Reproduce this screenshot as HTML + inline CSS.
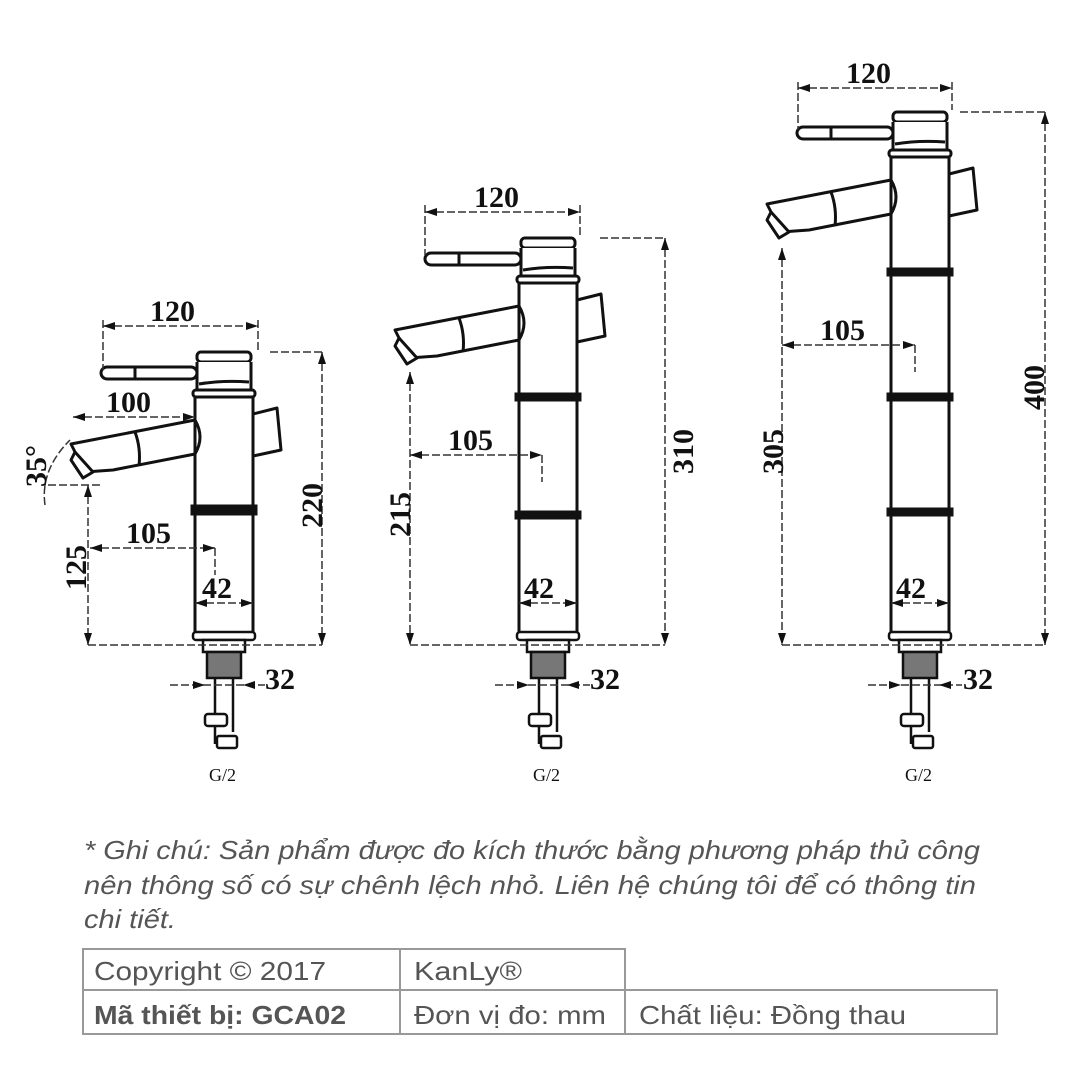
<!DOCTYPE html>
<html><head><meta charset="utf-8"><style>
html,body{margin:0;padding:0;background:#fff;}
svg{display:block;}
.d{font-family:"Liberation Serif",serif;font-weight:bold;font-size:30px;fill:#111;}
.n{font-family:"Liberation Sans",sans-serif;font-size:26px;fill:#555;}
</style></head><body>
<svg width="1090" height="1090" viewBox="0 0 1090 1090" xmlns="http://www.w3.org/2000/svg">
<defs>
<g id="top" fill="#fff" stroke="#111" stroke-width="3" stroke-linejoin="round">
  <polygon points="60,62 84,56 88,98 60,104"/>
  <rect x="-92" y="15" width="96" height="12" rx="6"/>
  <line x1="-58" y1="15" x2="-58" y2="27"/>
  <rect x="4" y="0" width="54" height="10" rx="4"/>
  <path d="M4,10 L4,38 L58,38 L58,10"/>
  <path d="M6,32 Q30,28 56,30" fill="none"/>
  <rect x="0" y="38" width="62" height="7" rx="3"/>
  <path d="M2,68 L-122,92 L-108,120 L-80,118 L2,102 Q12,85 2,68 Z"/>
  <path d="M-58,80 Q-52,96 -54,114" fill="none"/>
  <path d="M-118,100 L-100,120 L-110,126 L-122,108 Z"/>
</g>
<g id="base" fill="#fff" stroke="#111" stroke-width="2.5">
  <rect x="0" y="0" width="62" height="8" rx="3"/>
  <rect x="10" y="8" width="42" height="12"/>
  <rect x="14" y="20" width="34" height="26" fill="#777"/>
  <line x1="22" y1="46" x2="22" y2="112"/>
  <line x1="40" y1="46" x2="40" y2="100"/>
  <rect x="12" y="82" width="22" height="12" rx="3"/>
  <rect x="24" y="104" width="20" height="12" rx="2"/>
</g>
</defs>

<g transform="translate(193,352)"><use href="#top"/></g>
<g stroke="#111" stroke-width="3" fill="none">
  <line x1="195" y1="397" x2="195" y2="635"/><line x1="253" y1="397" x2="253" y2="635"/>
  <rect x="192" y="506" width="64" height="8" fill="#111"/>
</g>
<g transform="translate(193,632)"><use href="#base"/></g>
<g transform="translate(517,238)"><use href="#top"/></g>
<g stroke="#111" stroke-width="3" fill="none">
  <line x1="519" y1="283" x2="519" y2="635"/><line x1="577" y1="283" x2="577" y2="635"/>
  <rect x="516" y="394" width="64" height="6" fill="#111"/>
  <rect x="516" y="512" width="64" height="6" fill="#111"/>
</g>
<g transform="translate(517,632)"><use href="#base"/></g>
<g transform="translate(889,112)"><use href="#top"/></g>
<g stroke="#111" stroke-width="3" fill="none">
  <line x1="891" y1="157" x2="891" y2="635"/><line x1="949" y1="157" x2="949" y2="635"/>
  <rect x="888" y="269" width="64" height="6" fill="#111"/>
  <rect x="888" y="394" width="64" height="6" fill="#111"/>
  <rect x="888" y="509" width="64" height="6" fill="#111"/>
</g>
<g transform="translate(889,632)"><use href="#base"/></g>

<g stroke="#333" stroke-width="1.5" fill="none" stroke-dasharray="8,3">
  <line x1="103" y1="326" x2="258" y2="326"/><line x1="103" y1="320" x2="103" y2="370"/><line x1="258" y1="320" x2="258" y2="350"/>
  <line x1="73" y1="417" x2="195" y2="417"/>
  <line x1="322" y1="352" x2="322" y2="645"/><line x1="270" y1="352" x2="325" y2="352"/>
  <line x1="88" y1="645" x2="322" y2="645"/>
  <line x1="88" y1="485" x2="88" y2="645"/>
  <line x1="48" y1="485" x2="100" y2="485"/>
  <line x1="90" y1="548" x2="215" y2="548"/><line x1="215" y1="548" x2="215" y2="575"/>
  <line x1="195" y1="603" x2="253" y2="603"/>
  <line x1="170" y1="685" x2="265" y2="685"/>
  <path d="M45,505 Q40,470 70,440"/>
  <line x1="425" y1="212" x2="580" y2="212"/><line x1="425" y1="205" x2="425" y2="255"/><line x1="580" y1="205" x2="580" y2="236"/>
  <line x1="600" y1="238" x2="665" y2="238"/><line x1="665" y1="238" x2="665" y2="645"/>
  <line x1="410" y1="372" x2="410" y2="645"/>
  <line x1="410" y1="645" x2="665" y2="645"/>
  <line x1="410" y1="455" x2="542" y2="455"/><line x1="542" y1="455" x2="542" y2="482"/>
  <line x1="519" y1="603" x2="577" y2="603"/>
  <line x1="495" y1="685" x2="590" y2="685"/>
  <line x1="798" y1="88" x2="952" y2="88"/><line x1="798" y1="82" x2="798" y2="130"/><line x1="952" y1="82" x2="952" y2="110"/>
  <line x1="960" y1="112" x2="1045" y2="112"/><line x1="1045" y1="112" x2="1045" y2="645"/>
  <line x1="782" y1="248" x2="782" y2="645"/>
  <line x1="782" y1="645" x2="1045" y2="645"/>
  <line x1="782" y1="345" x2="915" y2="345"/><line x1="915" y1="345" x2="915" y2="372"/>
  <line x1="891" y1="603" x2="949" y2="603"/>
  <line x1="868" y1="685" x2="962" y2="685"/>
</g>
<g fill="#111">
  <path d="M103,326 l12,-4 v8z"/><path d="M258,326 l-12,-4 v8z"/>
  <path d="M73,417 l12,-4 v8z"/><path d="M195,417 l-12,-4 v8z"/>
  <path d="M322,352 l-4,12 h8z"/><path d="M322,645 l-4,-12 h8z"/>
  <path d="M88,485 l-4,12 h8z"/><path d="M88,645 l-4,-12 h8z"/>
  <path d="M90,548 l12,-4 v8z"/><path d="M215,548 l-12,-4 v8z"/>
  <path d="M195,603 l12,-4 v8z"/><path d="M253,603 l-12,-4 v8z"/>
  <path d="M205,685 l-12,-4 v8z"/><path d="M243,685 l12,-4 v8z"/>
  <path d="M425,212 l12,-4 v8z"/><path d="M580,212 l-12,-4 v8z"/>
  <path d="M665,238 l-4,12 h8z"/><path d="M665,645 l-4,-12 h8z"/>
  <path d="M410,372 l-4,12 h8z"/><path d="M410,645 l-4,-12 h8z"/>
  <path d="M410,455 l12,-4 v8z"/><path d="M542,455 l-12,-4 v8z"/>
  <path d="M519,603 l12,-4 v8z"/><path d="M577,603 l-12,-4 v8z"/>
  <path d="M529,685 l-12,-4 v8z"/><path d="M567,685 l12,-4 v8z"/>
  <path d="M798,88 l12,-4 v8z"/><path d="M952,88 l-12,-4 v8z"/>
  <path d="M1045,112 l-4,12 h8z"/><path d="M1045,645 l-4,-12 h8z"/>
  <path d="M782,248 l-4,12 h8z"/><path d="M782,645 l-4,-12 h8z"/>
  <path d="M782,345 l12,-4 v8z"/><path d="M915,345 l-12,-4 v8z"/>
  <path d="M891,603 l12,-4 v8z"/><path d="M949,603 l-12,-4 v8z"/>
  <path d="M901,685 l-12,-4 v8z"/><path d="M939,685 l12,-4 v8z"/>
</g>
<g class="d">
  <text x="150" y="321">120</text>
  <text x="106" y="412">100</text>
  <text x="126" y="543">105</text>
  <text x="202" y="598">42</text>
  <text x="265" y="689">32</text>
  <text transform="translate(46,487) rotate(-90)">35°</text>
  <text transform="translate(86,590) rotate(-90)">125</text>
  <text transform="translate(322,528) rotate(-90)">220</text>
  <text x="474" y="207">120</text>
  <text x="448" y="450">105</text>
  <text x="524" y="598">42</text>
  <text x="590" y="689">32</text>
  <text transform="translate(410,537) rotate(-90)">215</text>
  <text transform="translate(693,474) rotate(-90)">310</text>
  <text x="846" y="83">120</text>
  <text x="820" y="340">105</text>
  <text x="896" y="598">42</text>
  <text x="963" y="689">32</text>
  <text transform="translate(783,474) rotate(-90)">305</text>
  <text transform="translate(1044,410) rotate(-90)">400</text>
</g>
<g font-family="Liberation Serif,serif" font-size="18" fill="#111">
  <text x="209" y="781">G/2</text><text x="533" y="781">G/2</text><text x="905" y="781">G/2</text>
</g>

<g class="n" font-style="italic">
  <text x="84" y="859" textLength="896" lengthAdjust="spacingAndGlyphs">* Ghi chú: Sản phẩm được đo kích thước bằng phương pháp thủ công</text>
  <text x="84" y="894" textLength="892" lengthAdjust="spacingAndGlyphs">nên thông số có sự chênh lệch nhỏ. Liên hệ chúng tôi để có thông tin</text>
  <text x="84" y="928" textLength="92" lengthAdjust="spacingAndGlyphs">chi tiết.</text>
</g>
<g stroke="#999" stroke-width="2" fill="none">
  <polyline points="625,990 625,949 83,949 83,1034 997,1034 997,990 83,990"/>
  <line x1="400" y1="949" x2="400" y2="1034"/>
  <line x1="625" y1="990" x2="625" y2="1034"/>
</g>
<g class="n">
  <text x="94" y="980" textLength="232" lengthAdjust="spacingAndGlyphs">Copyright © 2017</text>
  <text x="414" y="980" textLength="108" lengthAdjust="spacingAndGlyphs">KanLy®</text>
  <text x="94" y="1024" font-weight="bold" textLength="252" lengthAdjust="spacingAndGlyphs">Mã thiết bị: GCA02</text>
  <text x="414" y="1024" textLength="192" lengthAdjust="spacingAndGlyphs">Đơn vị đo: mm</text>
  <text x="639" y="1024" textLength="267" lengthAdjust="spacingAndGlyphs">Chất liệu: Đồng thau</text>
</g>
</svg>
</body></html>
